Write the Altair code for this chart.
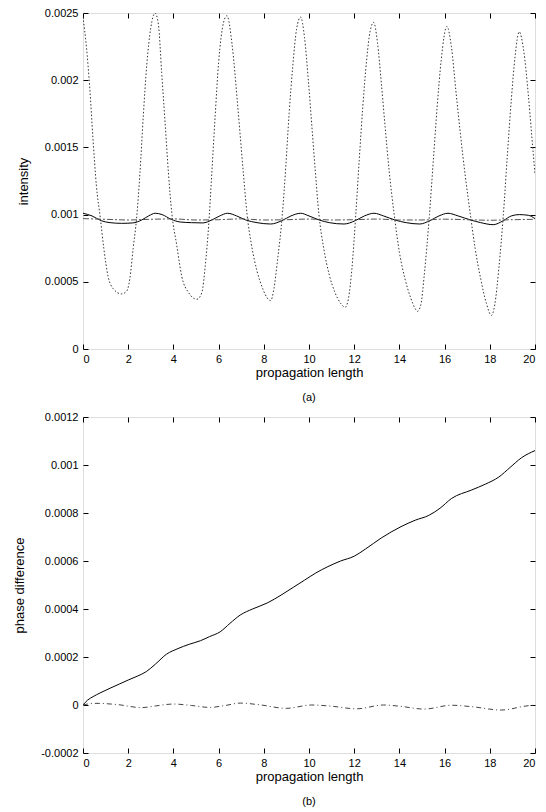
import altair as alt
import pandas as pd

# ---------------- panel (a): intensity ----------------
dot_x = [0, 0.15, 0.3, 0.44, 0.59, 0.77, 0.92, 1.11, 1.33, 1.7, 1.93, 2.07, 2.22, 2.37, 2.52, 2.67, 2.82, 3.0,
         3.19, 3.34, 3.48, 3.63, 3.78, 3.93, 4.15, 4.37, 4.67, 5.04, 5.26, 5.41, 5.56, 5.7, 5.85, 6.0, 6.22,
         6.37, 6.6, 6.82, 6.95, 7.1, 7.26, 7.45, 7.7, 7.95, 8.15, 8.3, 8.45, 8.6, 8.82, 8.97, 9.12, 9.28, 9.45,
         9.63, 9.8, 9.97, 10.13, 10.28, 10.44, 10.65, 10.9, 11.15, 11.4, 11.6, 11.75, 11.9, 12.07, 12.22, 12.38,
         12.55, 12.7, 12.86, 13.03, 13.2, 13.37, 13.55, 13.77, 14.0, 14.25, 14.5, 14.7, 14.8, 14.95, 15.1, 15.33,
         15.5, 15.67, 15.85, 16.1, 16.3, 16.5, 16.7, 16.92, 17.14, 17.35, 17.6, 17.85, 18.07, 18.22, 18.4, 18.6,
         18.78, 18.95, 19.12, 19.3, 19.5, 19.7, 19.85, 20.0]
dot_y = [0.00247, 0.00225, 0.00194, 0.00157, 0.00122, 0.00097, 0.00075, 0.00054, 0.00045, 0.00041, 0.00043,
         0.00052, 0.00075, 0.00097, 0.00131, 0.00174, 0.00211, 0.00239,
         0.00250, 0.00241, 0.00206, 0.00169, 0.00131, 0.00101, 0.00077, 0.00054, 0.00042, 0.00037, 0.00042,
         0.00062, 0.00092, 0.00131, 0.00174, 0.00213, 0.00243,
         0.00248, 0.00226, 0.00186, 0.00160, 0.00130, 0.00100, 0.00078, 0.00058, 0.00045, 0.00038, 0.00036,
         0.00045, 0.00065, 0.00100, 0.00135, 0.00175, 0.00210, 0.00238,
         0.00247, 0.00232, 0.00200, 0.00165, 0.00132, 0.00100, 0.00075, 0.00055, 0.00042, 0.00034, 0.00031,
         0.00038, 0.00060, 0.00100, 0.00140, 0.00180, 0.00215, 0.00236,
         0.00243, 0.00228, 0.00198, 0.00165, 0.00132, 0.00100, 0.00072, 0.00052, 0.00038, 0.00030, 0.00028,
         0.00033, 0.00055, 0.00100, 0.00140, 0.00180, 0.00215, 0.00240,
         0.00225, 0.00192, 0.00160, 0.00128, 0.00100, 0.00075, 0.00052, 0.00034, 0.00025, 0.00033, 0.00060,
         0.00100, 0.00145, 0.00185, 0.00218, 0.00236, 0.00222, 0.00190, 0.00160, 0.00130]

sol_x = [0, 0.4, 0.8, 1.2, 1.7, 2.2, 2.6, 2.9, 3.2, 3.5, 3.9, 4.3, 4.8, 5.3, 5.7, 6.05, 6.4, 6.8, 7.2, 7.7,
         8.3, 8.8, 9.2, 9.63, 10.0, 10.45, 10.9, 11.55, 12.05, 12.45, 12.88, 13.3, 13.8, 14.3, 14.9, 15.35,
         15.75, 16.15, 16.6, 17.15, 17.6, 18.15, 18.6, 18.95, 19.3, 19.7, 20.0]
sol_y = [0.00101, 0.00099, 0.000955, 0.00094, 0.000935, 0.000938, 0.00096, 0.00099, 0.00101, 0.00100,
         0.000965, 0.000945, 0.00094, 0.000938, 0.00096, 0.00099, 0.00101, 0.00099, 0.00096, 0.00094,
         0.00093, 0.000955, 0.00099, 0.00101, 0.00099, 0.00096, 0.00094, 0.00093, 0.000955, 0.00099,
         0.00101, 0.00099, 0.00096, 0.00094, 0.00093, 0.000955, 0.00099, 0.00101, 0.00099, 0.00096,
         0.00094, 0.000925, 0.000955, 0.00099, 0.00100, 0.000995, 0.00097]

dd_x = list(range(0, 21))
dd_y = [0.00097, 0.000965, 0.00096, 0.000965, 0.000968, 0.00096, 0.000962, 0.000968, 0.00096, 0.000962,
        0.000967, 0.00096, 0.000962, 0.000967, 0.00096, 0.00096, 0.000966, 0.000962, 0.000958, 0.000962,
        0.000965]

# ---------------- panel (b): phase difference ----------------
ph_x = [0, 0.2, 0.45, 0.75, 1.2, 1.6, 2.0, 2.4, 2.8, 3.2, 3.7, 4.2, 4.7, 5.2, 5.6, 6.07, 6.5, 6.96, 7.5,
        8.15, 8.8, 9.3, 9.8, 10.3, 10.8, 11.4, 12.0, 12.5, 13.2, 14.07, 14.7, 15.3, 15.8, 16.3, 17.2, 17.8,
        18.4, 18.9, 19.4, 20.0]
ph_y = [0, 0.00002, 0.000035, 0.00005, 0.00007, 0.000087, 0.000104, 0.00012, 0.000139, 0.00017, 0.000212,
        0.000235, 0.000253, 0.000268, 0.000285, 0.000305, 0.00034, 0.000375, 0.0004, 0.000425, 0.00046,
        0.00049, 0.00052, 0.00055, 0.000575, 0.0006, 0.00062, 0.00065, 0.000696, 0.000743, 0.00077,
        0.00079, 0.00082, 0.00086, 0.000896, 0.00092, 0.00095, 0.00099, 0.00103, 0.00106]

pd_x = [0, 0.5, 1.5, 2.6, 3.2, 4.0, 4.8, 5.6, 6.3, 6.96, 7.8, 9.0, 10.1, 11.0, 12.1, 13.3, 14.0, 15.1,
        16.3, 17.2, 18.5, 19.7, 20.0]
pd_y = [0, 0.000007, 0.000002, -0.000011, -0.000004, 0.000004, -0.000002, -0.00001, -0.000002, 0.000008,
        0.000001, -0.000014, 0.0, -0.000005, -0.000016, 0.0, -0.000005, -0.000017, -0.000001, -0.000007,
        -0.000021, -0.000003, -0.000001]

x_ticks = list(range(0, 21, 2))
top_y_ticks = [0, 0.0005, 0.001, 0.0015, 0.002, 0.0025]
bot_y_ticks = [-0.0002, 0, 0.0002, 0.0004, 0.0006, 0.0008, 0.001, 0.0012]

FONT = "Liberation Sans"
W, H = 452, 336
LBL = "datum.value < 0 ? '-' + format(-datum.value, '~g') : format(datum.value, '~g')"


def panel(layers_data, y_domain, y_ticks, y_title, tag):
    xs = alt.Scale(domain=[0, 20], nice=False, zero=False)
    ys = alt.Scale(domain=y_domain, nice=False, zero=False)
    common = dict(tickSize=5, offset=-5, domain=False, grid=False, tickColor="black",
                  labelFont=FONT, labelFontSize=11, labelColor="black",
                  titleFont=FONT, titleFontSize=13, titleFontWeight="normal", titleColor="black")
    x_main = alt.Axis(orient="bottom", values=x_ticks, labelPadding=4, title="propagation length",
                      titlePadding=2, **common)
    y_main = alt.Axis(orient="left", values=y_ticks, labelPadding=5, labelExpr=LBL, title=y_title,
                      titlePadding=14, **common)
    x_top = alt.Axis(orient="top", values=x_ticks, labels=False, title=None, **common)
    y_right = alt.Axis(orient="right", values=y_ticks, labels=False, title=None, **common)

    layers = []
    first = True
    for (xv, yv, style) in layers_data:
        df = pd.DataFrame({"x": xv, "y": yv})
        m = alt.Chart(df).mark_line(interpolate="monotone", clip=True, **style)
        if first:
            layers.append(m.encode(x=alt.X("x:Q", scale=xs, axis=x_main),
                                   y=alt.Y("y:Q", scale=ys, axis=y_main)))
            first = False
        else:
            layers.append(m.encode(x=alt.X("x:Q", scale=xs, axis=None),
                                   y=alt.Y("y:Q", scale=ys, axis=None)))
    # frame axes (top, right) with inward ticks
    df0 = pd.DataFrame({"x": layers_data[0][0], "y": layers_data[0][1]})
    layers.append(alt.Chart(df0).mark_line(opacity=0).encode(
        x=alt.X("x:Q", scale=xs, axis=x_top),
        y=alt.Y("y:Q", scale=ys, axis=y_right)))
    return alt.layer(*layers).resolve_axis(x="independent", y="independent").properties(
        width=W, height=H,
        title=alt.TitleParams(tag, orient="bottom", font=FONT, fontSize=11, fontWeight="normal",
                              color="black", offset=13))


top = panel([
    (sol_x, sol_y, dict(color="black", strokeWidth=1)),
    (dot_x, dot_y, dict(color="#333333", strokeWidth=1, strokeDash=[1.5, 2])),
    (dd_x, dd_y, dict(color="#555555", strokeWidth=1, strokeDash=[6, 2, 2, 2])),
], [0, 0.0025], top_y_ticks, "intensity", "(a)")

bottom = panel([
    (ph_x, ph_y, dict(color="black", strokeWidth=1)),
    (pd_x, pd_y, dict(color="#444444", strokeWidth=1, strokeDash=[5, 3, 1, 3])),
], [-0.0002, 0.0012], bot_y_ticks, "phase difference", "(b)")

chart = alt.vconcat(top, bottom, spacing=6).properties(
    padding={"left": 5, "top": -2, "right": 0, "bottom": 0}
).configure_view(stroke="black", strokeWidth=1).configure(background="white")

chart.save("out.html", embed_options={"renderer": "svg", "actions": False})
